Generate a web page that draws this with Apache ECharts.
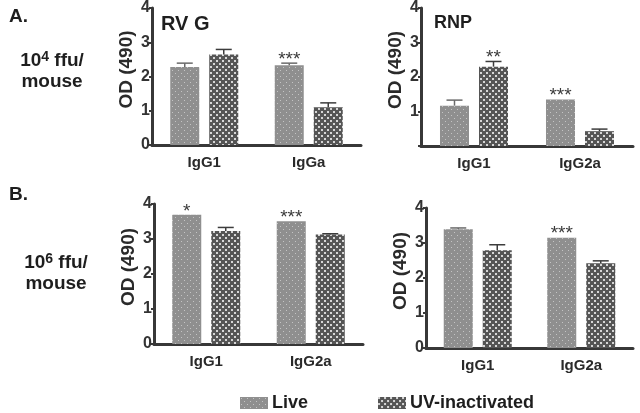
<!DOCTYPE html>
<html>
<head>
<meta charset="utf-8">
<script src="https://cdn.jsdelivr.net/npm/echarts@6/dist/echarts.min.js"></script>
<style>
html,body{margin:0;padding:0;background:#fff;}
#chart{width:640px;height:413px;}
</style>
</head>
<body>
<div id="chart"></div>
<script>
// ---- data ----
const catsRvgLow = ['IgG1', 'IgGa'];
const catsOther = ['IgG1', 'IgG2a'];
const yTicks = [0, 1, 2, 3, 4];

// A. 10^4 ffu/mouse, RV G
const rvgLowLive = [2.28, 2.33];
const rvgLowLiveErr = [2.39, 2.39];
const rvgLowUV = [2.64, 1.10];
const rvgLowUVErr = [2.79, 1.23];
const rvgLowLiveStars = ['', '***'];
const rvgLowUVStars = ['', ''];

// A. 10^4 ffu/mouse, RNP
const rnpLowLive = [1.17, 1.35];
const rnpLowLiveErr = [1.33, 1.35];
const rnpLowUV = [2.30, 0.43];
const rnpLowUVErr = [2.45, 0.49];
const rnpLowLiveStars = ['', '***'];
const rnpLowUVStars = ['**', ''];

// B. 10^6 ffu/mouse, RV G
const rvgHighLive = [3.69, 3.51];
const rvgHighLiveErr = [3.69, 3.51];
const rvgHighUV = [3.23, 3.13];
const rvgHighUVErr = [3.33, 3.15];
const rvgHighLiveStars = ['*', '***'];
const rvgHighUVStars = ['', ''];

// B. 10^6 ffu/mouse, RNP
const rnpHighLive = [3.39, 3.15];
const rnpHighLiveErr = [3.43, 3.15];
const rnpHighUV = [2.79, 2.42];
const rnpHighUVErr = [2.95, 2.49];
const rnpHighLiveStars = ['', '***'];
const rnpHighUVStars = ['', ''];

// ---- styles ----
function makePattern(bg, dot, size, dots) {
  const c = document.createElement('canvas');
  c.width = size; c.height = size;
  const ctx = c.getContext('2d');
  ctx.fillStyle = bg; ctx.fillRect(0, 0, size, size);
  ctx.fillStyle = dot;
  dots.forEach(d => ctx.fillRect(d[0], d[1], d[2], d[3]));
  return c;
}
const livePat = makePattern('#8f8f8f', '#c4c4c4', 6, [[1,1,1,1],[4,4,1,1]]);
const uvPat = makePattern('#555555', '#d6d6d6', 6, [[0,0,2,2],[3,3,2,2]]);
const liveFill = {image: livePat, repeat: 'repeat'};
const uvFill = {image: uvPat, repeat: 'repeat'};

const FONT = '"Liberation Sans", Arial, sans-serif';
const AX = '#383838';

const grids = [
  {left: 152, top: 7, width: 209, height: 138},
  {left: 421, top: 7, width: 212, height: 139},
  {left: 154, top: 204, width: 209, height: 140},
  {left: 426, top: 208, width: 207, height: 140}
];

const panels = [
  {cats: catsRvgLow, live: rvgLowLive, liveErr: rvgLowLiveErr, uv: rvgLowUV, uvErr: rvgLowUVErr, ls: rvgLowLiveStars, us: rvgLowUVStars, hideZero: false},
  {cats: catsOther, live: rnpLowLive, liveErr: rnpLowLiveErr, uv: rnpLowUV, uvErr: rnpLowUVErr, ls: rnpLowLiveStars, us: rnpLowUVStars, hideZero: true},
  {cats: catsOther, live: rvgHighLive, liveErr: rvgHighLiveErr, uv: rvgHighUV, uvErr: rvgHighUVErr, ls: rvgHighLiveStars, us: rvgHighUVStars, hideZero: false},
  {cats: catsOther, live: rnpHighLive, liveErr: rnpHighLiveErr, uv: rnpHighUV, uvErr: rnpHighUVErr, ls: rnpHighLiveStars, us: rnpHighUVStars, hideZero: false}
];

const BAR_W = 29, GAP = 10;
const OFF = (BAR_W + GAP) / 2;

function errRenderer(offset, stars, whiskerColor) {
  return function (params, api) {
    const cat = api.value(0), val = api.value(1), err = api.value(2);
    const base = api.coord([cat, val]);
    const topv = api.coord([cat, Math.max(val, err)]);
    const x = base[0] + offset;
    const children = [];
    if (err > val) {
      children.push({type: 'line', shape: {x1: x, y1: base[1], x2: x, y2: topv[1]}, style: {stroke: whiskerColor, lineWidth: 1.5}});
      children.push({type: 'line', shape: {x1: x - 8, y1: topv[1], x2: x + 8, y2: topv[1]}, style: {stroke: whiskerColor, lineWidth: 1.5}});
    }
    const s = stars[params.dataIndex];
    if (s) {
      children.push({type: 'text', x: x, y: topv[1] + 6, style: {text: s, font: '19px ' + FONT, fill: '#3a3a3a', align: 'center', verticalAlign: 'bottom'}});
    }
    return {type: 'group', children: children};
  };
}

const xAxes = [], yAxes = [], series = [];
panels.forEach((p, i) => {
  xAxes.push({
    type: 'category', gridIndex: i, data: p.cats,
    axisLine: {lineStyle: {color: AX, width: 3}},
    axisTick: {alignWithLabel: true, length: 4, lineStyle: {color: AX, width: 2}},
    axisLabel: {margin: 10, fontFamily: FONT, fontWeight: 'bold', fontSize: 15, color: '#2a2a2a'}
  });
  yAxes.push({
    type: 'value', gridIndex: i, min: 0, max: 4, interval: 1,
    name: 'OD (490)', nameLocation: 'middle', nameGap: 16, nameRotate: 90,
    nameTextStyle: {fontFamily: FONT, fontWeight: 'bold', fontSize: 19, color: '#2a2a2a', padding: [0, 0, 0, 14]},
    splitLine: {show: false},
    axisLine: {show: true, lineStyle: {color: AX, width: 3}},
    axisTick: {show: true, length: 3, lineStyle: {color: AX, width: 2}},
    axisLabel: {margin: 2, fontFamily: FONT, fontWeight: 'bold', fontSize: 16, color: '#333',
      formatter: v => (p.hideZero && v === 0) ? '' : String(v)}
  });
  series.push({
    name: 'Live', type: 'bar', xAxisIndex: i, yAxisIndex: i, data: p.live,
    barWidth: BAR_W, barGap: (GAP / BAR_W * 100).toFixed(1) + '%',
    itemStyle: {color: liveFill}
  });
  series.push({
    name: 'UV-inactivated', type: 'bar', xAxisIndex: i, yAxisIndex: i, data: p.uv,
    barWidth: BAR_W, itemStyle: {color: uvFill}
  });
  series.push({
    type: 'custom', xAxisIndex: i, yAxisIndex: i, z: 5,
    renderItem: errRenderer(-OFF, p.ls, '#6a6a6a'),
    encode: {x: 0, y: [1, 2]},
    data: p.live.map((v, k) => [k, v, p.liveErr[k]])
  });
  series.push({
    type: 'custom', xAxisIndex: i, yAxisIndex: i, z: 5,
    renderItem: errRenderer(OFF, p.us, '#3c3c3c'),
    encode: {x: 0, y: [1, 2]},
    data: p.uv.map((v, k) => [k, v, p.uvErr[k]])
  });
});

const bold = (size) => ({fontFamily: FONT, fontWeight: 'bold', fontSize: size, color: '#1e1e1e'});
const doseRich = {
  a: {fontFamily: FONT, fontWeight: 'bold', fontSize: 19, color: '#1e1e1e', lineHeight: 21},
  sup: {fontFamily: FONT, fontWeight: 'bold', fontSize: 14, color: '#1e1e1e', lineHeight: 21, verticalAlign: 'top', padding: [0, 0, 6, 0]}
};

const option = {
  animation: false,
  backgroundColor: '#ffffff',
  title: [
    {text: 'RV G', left: 156, top: 9, textStyle: bold(20)},
    {text: 'RNP', left: 429, top: 9, textStyle: bold(18)},
    {text: 'A.', left: 4, top: 2, textStyle: bold(19)},
    {text: 'B.', left: 4, top: 180, textStyle: bold(19)},
    {text: '{a|10}{sup|4}{a| ffu/}\n{a|mouse}', left: 47, top: 45, textAlign: 'center', textStyle: {rich: doseRich, align: 'center'}},
    {text: '{a|10}{sup|6}{a| ffu/}\n{a|mouse}', left: 51, top: 247, textAlign: 'center', textStyle: {rich: doseRich, align: 'center'}}
  ],
  legend: {
    data: ['Live', 'UV-inactivated'],
    left: 235, top: 389, itemWidth: 28, itemHeight: 12, itemGap: 70,
    icon: 'rect',
    textStyle: {fontFamily: FONT, fontWeight: 'bold', fontSize: 18, color: '#1e1e1e', padding: [0, 0, 0, -1]}
  },
  grid: grids,
  xAxis: xAxes,
  yAxis: yAxes,
  series: series
};

const chart = echarts.init(document.getElementById('chart'), null, {renderer: 'canvas'});
chart.setOption(option);
</script>
</body>
</html>
